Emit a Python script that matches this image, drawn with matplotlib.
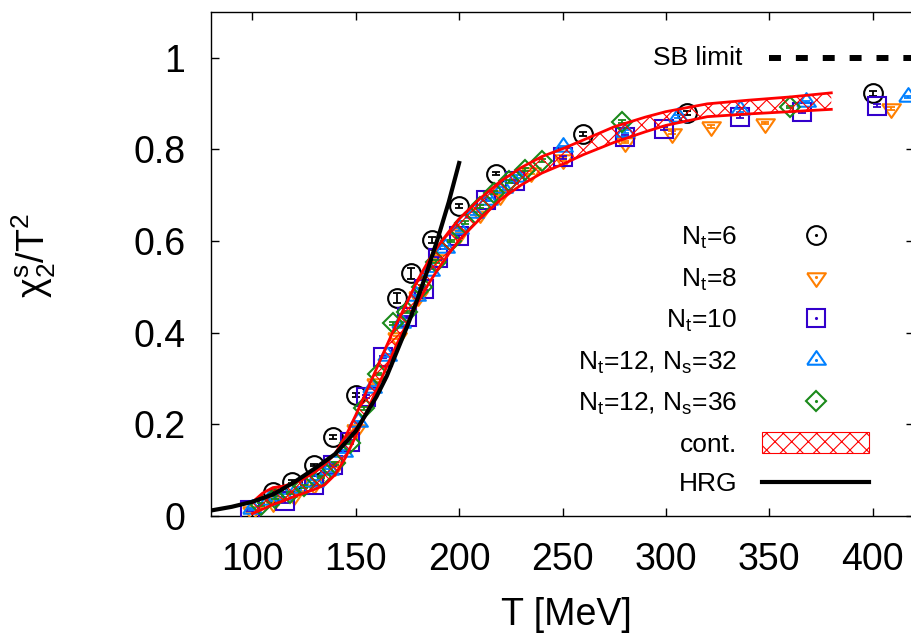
import numpy as np
import matplotlib
matplotlib.use('Agg')
import matplotlib.pyplot as plt
from matplotlib.lines import Line2D
from matplotlib.patches import Patch
from matplotlib.ticker import FuncFormatter

plt.rcParams['font.family'] = 'Liberation Sans'
plt.rcParams['mathtext.fontset'] = 'custom'
plt.rcParams['mathtext.rm'] = 'Liberation Sans'
plt.rcParams['mathtext.it'] = 'Liberation Sans:italic'
plt.rcParams['hatch.linewidth'] = 0.8

# lattice data, N_t = 6
T6 = [110, 119, 130, 139, 150, 170, 176.5, 187, 200, 218, 260, 310, 400]
chi6 = [0.053, 0.075, 0.111, 0.173, 0.264, 0.475, 0.529, 0.602, 0.676, 0.747, 0.833, 0.879, 0.922]
err6 = [0.003, 0.003, 0.003, 0.004, 0.005, 0.011, 0.011, 0.006, 0.005, 0.004, 0.004, 0.004, 0.005]

# N_t = 8
T8 = [100, 110, 120, 130, 140, 150, 160, 170, 180, 190, 200, 210, 220, 235, 250, 280, 303, 322, 348, 409]
chi8 = [0.010, 0.030, 0.045, 0.070, 0.110, 0.190, 0.290, 0.390, 0.480, 0.560, 0.615, 0.660, 0.700,
        0.750, 0.778, 0.816, 0.836, 0.850, 0.857, 0.889]

# N_t = 10
T10 = [99, 116, 130, 139, 147, 155, 163, 175, 183, 190, 200, 213, 227, 250, 280, 299, 336, 366, 402]
chi10 = [0.013, 0.032, 0.068, 0.111, 0.162, 0.260, 0.347, 0.434, 0.496, 0.562, 0.610, 0.690, 0.730,
         0.782, 0.827, 0.845, 0.871, 0.881, 0.895]

# N_t = 12, N_s = 32
T32 = [100, 108, 115, 122, 130, 137, 144, 151, 158, 165, 172, 179, 186, 193, 200, 207, 214, 221, 228,
       250, 280, 306, 336, 368, 417]
chi32 = [0.015, 0.035, 0.045, 0.060, 0.075, 0.100, 0.140, 0.205, 0.280, 0.350, 0.420, 0.480, 0.535,
         0.585, 0.625, 0.660, 0.690, 0.715, 0.740, 0.805, 0.838, 0.871, 0.885, 0.903, 0.914]

# N_t = 12, N_s = 36
T36 = [104, 111, 118, 125, 133, 140, 147, 154, 161, 168, 175, 182, 189, 196, 203, 210, 217, 224, 232,
       240, 279, 360]
chi36 = [0.025, 0.040, 0.050, 0.065, 0.085, 0.115, 0.160, 0.235, 0.310, 0.420, 0.445, 0.500, 0.555,
         0.600, 0.640, 0.675, 0.705, 0.730, 0.755, 0.775, 0.860, 0.892]

small_err = 0.003

# continuum extrapolation band
T_band = [100, 105, 110, 115, 120, 125, 130, 135, 140, 145, 150, 155, 160, 165, 170, 175, 180, 185,
          190, 195, 200, 210, 220, 230, 240, 250, 260, 275, 290, 300, 320, 340, 360, 380]
band_lo = [0.005, 0.015, 0.025, 0.033, 0.042, 0.050, 0.058, 0.068, 0.090, 0.127, 0.174, 0.224, 0.275,
           0.326, 0.376, 0.422, 0.465, 0.505, 0.540, 0.572, 0.602, 0.648, 0.690, 0.722, 0.748, 0.767,
           0.788, 0.815, 0.838, 0.852, 0.871, 0.877, 0.882, 0.887]
band_hi = [0.030, 0.050, 0.062, 0.065, 0.072, 0.082, 0.095, 0.112, 0.136, 0.173, 0.220, 0.270, 0.321,
           0.372, 0.422, 0.468, 0.515, 0.555, 0.590, 0.620, 0.648, 0.692, 0.730, 0.760, 0.784, 0.801,
           0.820, 0.849, 0.870, 0.882, 0.899, 0.907, 0.914, 0.923]

# hadron resonance gas
T_hrg = [80, 90, 100, 110, 120, 130, 140, 150, 160, 165, 170, 175, 180, 185, 190, 195, 200]
chi_hrg = [0.012, 0.020, 0.031, 0.047, 0.073, 0.103, 0.135, 0.185, 0.260, 0.305, 0.360, 0.415, 0.475,
           0.540, 0.610, 0.685, 0.770]

T_sb = [350, 420]
chi_sb = [1.0, 1.0]

tri_down = [(-1, 0.45), (1, 0.45), (0, -1), (-1, 0.45)]
tri_up = [(-1, -0.45), (1, -0.45), (0, 1), (-1, -0.45)]

series = [
    (T6, chi6, err6, 'o', 13.5, 'black', r'N$_{\mathregular{t}}$=6'),
    (T8, chi8, small_err, tri_down, 13.5, '#ff7f00', r'N$_{\mathregular{t}}$=8'),
    (T10, chi10, small_err, 's', 13.5, '#3300cc', r'N$_{\mathregular{t}}$=10'),
    (T32, chi32, small_err, tri_up, 13.5, '#0080ff', r'N$_{\mathregular{t}}$=12, N$_{\mathregular{s}}$=32'),
    (T36, chi36, small_err, 'D', 10, '#1a8a1a', r'N$_{\mathregular{t}}$=12, N$_{\mathregular{s}}$=36'),
]

fig = plt.figure(figsize=(9.11, 6.38), dpi=100)
ax = fig.add_axes([211 / 911, 122 / 638, 703 / 911, 504.3 / 638])

handles = []
labels = []
for T, chi, err, mk, ms, col, lab in series:
    ax.errorbar(T, chi, yerr=err, fmt='none', ecolor=col, elinewidth=1.3,
                capsize=3, capthick=1.3, zorder=3)
    ax.plot(T, chi, linestyle='none', marker=mk, ms=ms, mfc='none', mec=col, mew=1.5, zorder=3)
    h1 = Line2D([], [], linestyle='none', marker=mk, ms=ms, mfc='none', mec=col, mew=1.5)
    h2 = Line2D([], [], linestyle='none', marker='.', ms=2.5, color=col)
    handles.append((h1, h2))
    labels.append(lab)

ax.fill_between(T_band, band_lo, band_hi, facecolor='none', edgecolor='red', hatch='xx',
                linewidth=0, zorder=4)
ax.plot(T_band, band_lo, color='red', lw=2.0, zorder=4)
ax.plot(T_band, band_hi, color='red', lw=2.0, zorder=4)
handles.append(Patch(facecolor='white', edgecolor='red', hatch='xx', lw=0.8))
labels.append('cont.')

ax.plot(T_hrg, chi_hrg, color='black', lw=3, zorder=5)
handles.append(Line2D([], [], color='black', lw=3))
labels.append('HRG')

ax.plot(T_sb, chi_sb, color='black', lw=4.3, dashes=(2.0, 2.5), dash_capstyle='butt', zorder=5)
ax.text(337, 1.0, 'SB limit', fontsize=19, ha='right', va='center')

ax.set_xlim(80, 420)
ax.set_ylim(0, 1.1)
ax.set_xticks([100, 150, 200, 250, 300, 350, 400])
ax.set_yticks([0, 0.2, 0.4, 0.6, 0.8, 1.0])
ax.yaxis.set_major_formatter(FuncFormatter(lambda v, p: '%g' % v))
ax.tick_params(direction='in', length=5.8, width=1.0, labelsize=27, top=True, right=True)
ax.tick_params(axis='x', pad=19)
ax.tick_params(axis='y', pad=18.5)
for s in ax.spines.values():
    s.set_linewidth(1.0)

ax.set_xlabel('T [MeV]', fontsize=27)
ax.xaxis.set_label_coords(0.505, -0.161)
ax.set_ylabel(r'$\mathregular{\chi_2^s/T^2}$', fontsize=27)
ax.yaxis.set_label_coords(-0.218, 0.516)

leg = ax.legend(handles, labels, loc='center right', bbox_to_anchor=(869 / 911, (638 - 360.5) / 638),
                bbox_transform=fig.transFigure, markerfirst=False, frameon=False, fontsize=19,
                handlelength=4.05, handleheight=0.8, handletextpad=0.95, labelspacing=0.58,
                borderpad=0, borderaxespad=0)
for t in leg.get_texts():
    t.set_ha('right')

fig.savefig('out.png', dpi=100)
